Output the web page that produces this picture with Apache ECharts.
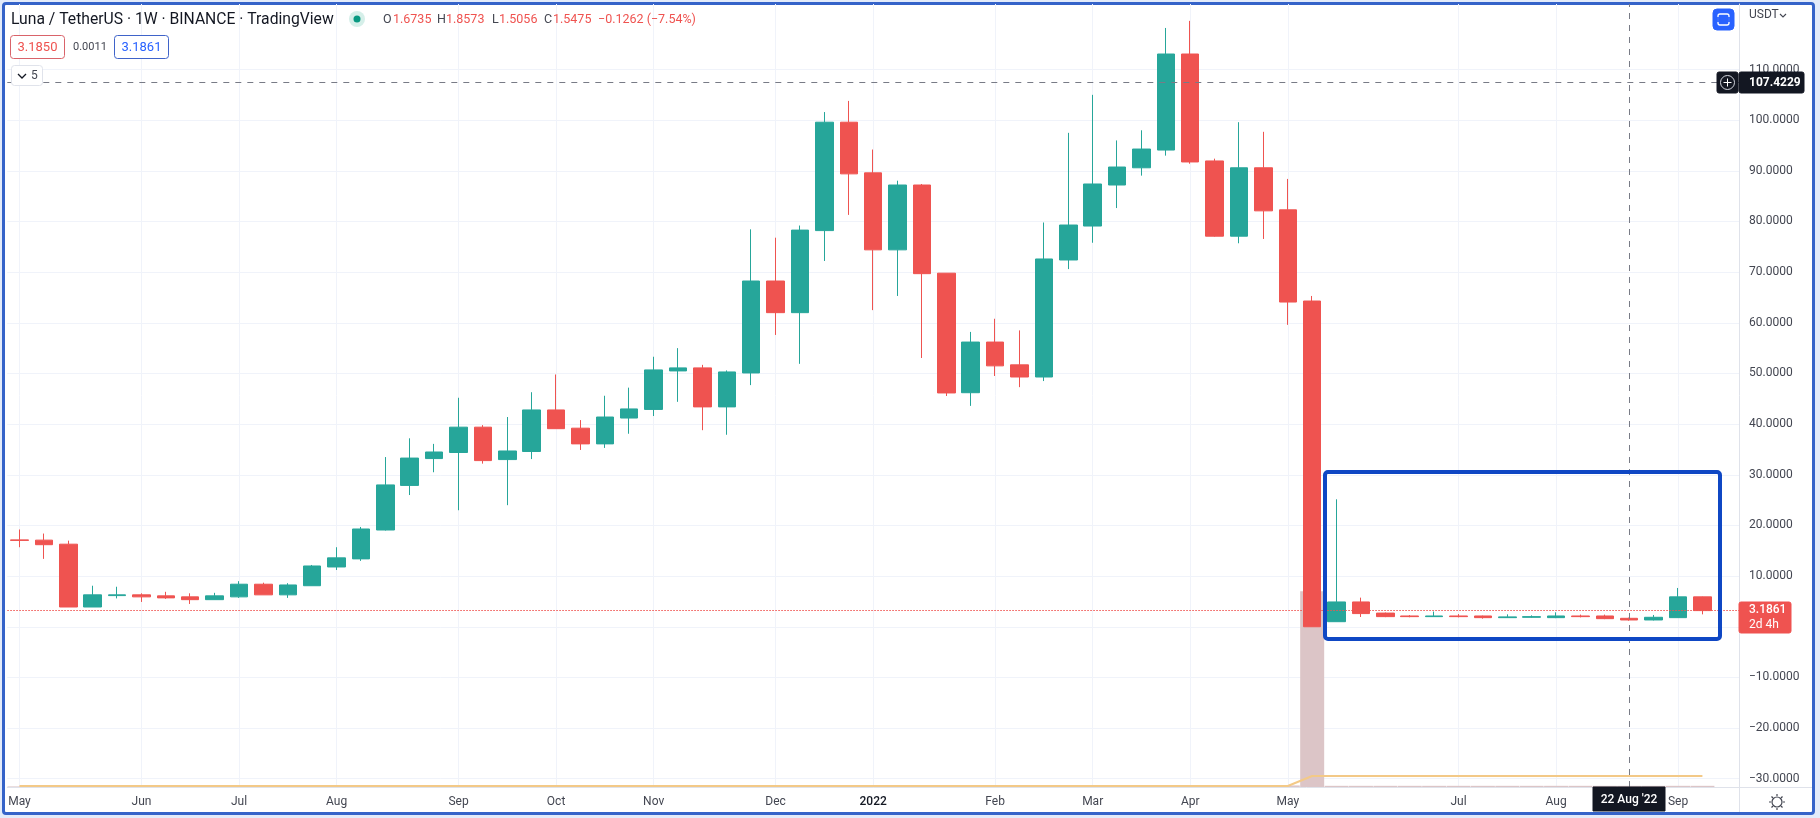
<!DOCTYPE html>
<html>
<head>
<meta charset="utf-8">
<title>Luna / TetherUS</title>
<script src="https://cdn.jsdelivr.net/npm/echarts@6/dist/echarts.min.js"></script>
<style>
    html, body { margin: 0; padding: 0; width: 1820px; height: 818px; background: #e3ebfa; overflow: hidden; }
    #frame { position: absolute; left: 2px; top: 2px; width: 1807px; height: 807px; border: 3px solid #3563c9; border-radius: 4px; background: #fff; }
    #chart { position: absolute; left: 0; top: 0; width: 1820px; height: 818px; }
</style>
</head>
<body>
<div id="frame"></div>
<div id="chart"></div>
<script>
// weekly candles, week start dates (the exchange had no trading for two weeks in May 2022)
const weeks = [
    '2021-05-03','2021-05-10','2021-05-17','2021-05-24','2021-05-31','2021-06-07','2021-06-14','2021-06-21','2021-06-28','2021-07-05',
    '2021-07-12','2021-07-19','2021-07-26','2021-08-02','2021-08-09','2021-08-16','2021-08-23','2021-08-30','2021-09-06','2021-09-13',
    '2021-09-20','2021-09-27','2021-10-04','2021-10-11','2021-10-18','2021-10-25','2021-11-01','2021-11-08','2021-11-15','2021-11-22',
    '2021-11-29','2021-12-06','2021-12-13','2021-12-20','2021-12-27','2022-01-03','2022-01-10','2022-01-17','2022-01-24','2022-01-31',
    '2022-02-07','2022-02-14','2022-02-21','2022-02-28','2022-03-07','2022-03-14','2022-03-21','2022-03-28','2022-04-04','2022-04-11',
    '2022-04-18','2022-04-25','2022-05-02','2022-05-09','2022-05-30','2022-06-06','2022-06-13','2022-06-20','2022-06-27','2022-07-04',
    '2022-07-11','2022-07-18','2022-07-25','2022-08-01','2022-08-08','2022-08-15','2022-08-22','2022-08-29','2022-09-05','2022-09-12',
    ''
];
const opens = [
    17.15,17.1,16.3,3.9,6.15,6.3,6.1,5.9,5.35,5.9,
    8.4,6.3,8.1,11.8,13.4,19.1,27.9,33.2,34.4,39.4,
    33.0,34.6,42.8,39.2,36.1,41.2,42.9,50.5,51.1,43.4,
    50.1,68.25,62.0,78.2,99.6,89.6,74.4,87.2,69.8,46.2,
    56.2,51.7,49.3,72.4,79.1,87.2,90.6,94.1,113.06,91.95,
    77.1,90.6,82.3,64.3,1.0,4.9,2.7,2.13,2.0,2.13,
    2.13,1.8,1.87,1.8,2.13,2.13,1.67,1.34,1.8,5.9
];
const closes = [
    17.05,16.2,3.9,6.3,6.3,5.9,5.7,5.35,6.1,8.4,
    6.3,8.25,12.0,13.6,19.3,28.0,33.3,34.5,39.4,32.8,
    34.7,42.8,39.1,36.1,41.4,43.0,50.7,51.1,43.4,50.3,
    68.25,62.0,78.3,99.6,89.4,74.4,87.2,69.7,46.15,56.2,
    51.5,49.3,72.6,79.3,87.4,90.75,94.3,113.06,91.75,77.1,
    90.6,82.1,64.1,0.0,4.9,2.6,2.0,2.0,2.13,2.0,
    1.8,1.95,2.0,2.13,2.0,1.6,1.34,1.87,5.9,3.19
];
const lows = [
    15.7,13.4,3.9,3.9,5.6,4.9,5.5,4.5,5.35,5.7,
    6.3,5.7,8.1,11.2,13.0,19.0,26.0,30.5,23.0,32.2,
    24.0,33.1,39.1,34.9,35.3,38.1,41.6,44.4,38.8,37.9,
    47.7,57.6,51.9,72.2,81.3,62.5,65.3,53.05,45.55,43.6,
    49.5,47.3,48.5,70.6,75.8,82.65,89.05,93.0,91.4,77.0,
    75.7,76.55,59.6,0.0,1.0,1.93,1.9,1.87,1.95,1.85,
    1.6,1.75,1.8,1.7,1.85,1.5,1.2,1.25,1.75,2.45
];
const highs = [
    19.2,18.4,17.0,8.1,7.9,6.6,6.9,6.6,6.7,9.0,
    8.7,8.6,12.2,15.7,19.7,33.5,37.2,36.1,45.2,39.8,
    41.4,46.3,49.8,40.8,45.6,47.2,53.3,55.0,51.7,50.6,
    78.45,76.8,79.2,101.6,103.8,94.2,88.05,87.4,69.8,58.2,
    60.8,58.5,79.8,97.5,105.0,96.0,98.0,118.2,119.6,92.4,
    99.6,97.7,88.4,65.3,25.16,5.75,2.8,2.3,3.0,2.5,
    2.2,2.45,2.25,2.85,2.4,2.4,1.8,2.33,7.66,5.95
];
// volume, only its size relative to the big May 2022 week is readable
const volumes = [
    0.3,0.3,0.3,0.3,0.3,0.3,0.3,0.3,0.3,0.3,
    0.3,0.3,0.3,0.3,0.3,0.3,0.3,0.3,0.3,0.3,
    0.3,0.3,0.3,0.3,0.3,0.3,0.3,0.3,0.3,0.3,
    0.3,0.3,0.3,0.3,0.3,0.3,0.3,0.3,0.3,0.3,
    0.3,0.3,0.3,0.3,0.3,0.3,0.3,0.3,0.3,0.3,
    0.3,0.4,0.8,100,0.6,0.6,0.6,0.6,0.6,0.6,
    0.6,0.6,0.6,0.6,0.6,0.6,0.6,0.6,0.6,0.6
];
const volumeMa = [
    0.5,0.5,0.5,0.5,0.5,0.5,0.5,0.5,0.5,0.5,
    0.5,0.5,0.5,0.5,0.5,0.5,0.5,0.5,0.5,0.5,
    0.5,0.5,0.5,0.5,0.5,0.5,0.5,0.5,0.5,0.5,
    0.5,0.5,0.5,0.5,0.5,0.5,0.5,0.5,0.5,0.5,
    0.5,0.5,0.5,0.5,0.5,0.5,0.5,0.5,0.5,0.5,
    0.5,0.5,0.5,5.6,5.6,5.6,5.6,5.6,5.6,5.6,
    5.6,5.6,5.6,5.6,5.6,5.6,5.6,5.6,5.6,5.6
];
const priceTicks = [-30,-20,-10,0,10,20,30,40,50,60,70,80,90,100,110];
// which week carries which label on the time axis
const monthLabels = {
    0:'May', 5:'Jun', 9:'Jul', 13:'Aug', 18:'Sep', 22:'Oct', 26:'Nov', 31:'Dec', 35:'2022',
    40:'Feb', 44:'Mar', 48:'Apr', 52:'May', 59:'Jul', 63:'Aug', 68:'Sep'
};
const crossPrice = 107.4229;
const crossWeek = 66;
const lastPrice = 3.1861;

const UP = '#26a69a';
const DOWN = '#ef5350';
const TEXT = '#434651';
const FONT = 'Roboto';

const candles = weeks.slice(0, opens.length).map((w, i) => [opens[i], closes[i], lows[i], highs[i]]);

const chart = echarts.init(document.getElementById('chart'), null, {renderer: 'canvas'});

function txt(x, y, text, fill, size, extra) {
    return {
        type: 'text', x: x, y: y, z: 100,
        style: Object.assign({text: text, fill: fill, fontSize: size, fontFamily: FONT, textVerticalAlign: 'middle'}, extra || {})
    };
}
function box(x, y, w, h, fill, stroke, r) {
    return {
        type: 'rect', z: 99,
        shape: {x: x, y: y, width: w, height: h, r: r === undefined ? 3 : r},
        style: {fill: fill, stroke: stroke, lineWidth: 1}
    };
}
function seg(x1, y1, x2, y2, stroke, lw, z) {
    return {
        type: 'line', z: z || 99,
        shape: {x1: x1, y1: y1, x2: x2, y2: y2},
        style: {stroke: stroke, lineWidth: lw}
    };
}

const option = {
    backgroundColor: 'transparent',
    animation: false,
    grid: {left: 7.3, right: 81, top: 4, bottom: 31},
    xAxis: {
        type: 'category',
        data: weeks,
        axisLine: {show: true, onZero: false, lineStyle: {color: '#dfe2ea'}},
        axisTick: {show: false},
        axisLabel: {
            interval: (i) => monthLabels[i] !== undefined,
            formatter: (v, i) => {
                if (monthLabels[i] === '2022') return '{y|2022}';
                return monthLabels[i] || '';
            },
            hideOverlap: false,
            color: TEXT,
            fontFamily: FONT,
            fontSize: 12,
            margin: 9,
            rich: {y: {color: '#131722', fontFamily: FONT, fontSize: 12, fontWeight: 500}}
        },
        splitLine: {
            show: true,
            alignWithLabel: true,
            interval: (i) => monthLabels[i] !== undefined,
            lineStyle: {color: '#f0f3fa'}
        }
    },
    yAxis: [{
        type: 'value',
        position: 'right',
        min: -31.63,
        max: 122.93,
        scale: true,
        axisLine: {show: true, lineStyle: {color: '#dfe2ea'}},
        axisTick: {show: false, customValues: priceTicks},
        axisLabel: {
            customValues: priceTicks,
            formatter: (v) => v.toFixed(4).replace('-', '\u2212'),
            color: TEXT,
            fontFamily: FONT,
            fontSize: 12,
            margin: 10,
            showMinLabel: true,
            showMaxLabel: true
        },
        splitLine: {show: true, lineStyle: {color: '#f0f3fa'}}
    }, {
        // hidden volume scale, sits at the bottom of the same pane
        type: 'value',
        position: 'right',
        min: 0,
        max: 400,
        show: false,
        splitLine: {show: false}
    }],
    series: [{
        name: 'Volume',
        type: 'bar',
        yAxisIndex: 1,
        data: volumes,
        barWidth: 24,
        z: 1,
        itemStyle: {color: '#dcc5c7'},
        silent: true
    }, {
        name: 'Volume MA',
        type: 'line',
        yAxisIndex: 1,
        data: volumeMa,
        showSymbol: false,
        z: 2,
        lineStyle: {color: '#f3c987', width: 2},
        silent: true
    }, {
        name: 'Luna / TetherUS',
        type: 'candlestick',
        data: candles,
        barWidth: 18,
        z: 3,
        itemStyle: {color: UP, color0: DOWN, borderColor: UP, borderColor0: DOWN, borderWidth: 1},
        markLine: {
            silent: true,
            symbol: 'none',
            label: {show: false},
            animation: false,
            data: [
                {yAxis: crossPrice, lineStyle: {color: '#787b86', type: [6, 6], width: 1}},
                {xAxis: crossWeek, lineStyle: {color: '#787b86', type: [6, 6], width: 1}},
                {yAxis: lastPrice, lineStyle: {color: DOWN, type: [1.5, 1.5], width: 1}}
            ]
        }
    }],
    graphic: [
        // legend block top left
        txt(11, 20, 'Luna / TetherUS \u00b7 1W \u00b7 BINANCE \u00b7 TradingView', '#131722', 15.7),
        {type: 'circle', z: 98, shape: {cx: 357, cy: 19, r: 8}, style: {fill: '#d5efe9'}},
        {type: 'circle', z: 99, shape: {cx: 357, cy: 19, r: 3.5}, style: {fill: '#089981'}},
        txt(383, 20, 'O', TEXT, 12.5),
        txt(393, 20, '1.6735', DOWN, 12.5),
        txt(437, 20, 'H', TEXT, 12.5),
        txt(446, 20, '1.8573', DOWN, 12.5),
        txt(492, 20, 'L', TEXT, 12.5),
        txt(499, 20, '1.5056', DOWN, 12.5),
        txt(544, 20, 'C', TEXT, 12.5),
        txt(553, 20, '1.5475', DOWN, 12.5),
        txt(598, 20, '\u22120.1262 (\u22127.54%)', DOWN, 12.5),
        box(10.5, 35.5, 54, 23, '#fff', '#d9636a'),
        txt(37.5, 47.5, '3.1850', DOWN, 13, {textAlign: 'center'}),
        txt(73, 47.5, '0.0011', TEXT, 11),
        box(114.5, 35.5, 54, 23, '#fff', '#3f63c9'),
        txt(141.5, 47.5, '3.1861', '#2962ff', 13, {textAlign: 'center'}),
        box(11.5, 65.5, 31, 20, '#fff', '#e0e3eb'),
        {type: 'polyline', z: 100, shape: {points: [[18, 74], [22, 78], [26, 74]]}, style: {stroke: '#131722', lineWidth: 1.3, fill: 'none'}},
        txt(31, 76, '5', TEXT, 12),

        // button and unit at top right
        box(1713, 9, 21, 21, '#2962ff', '#2962ff', 4),
        {type: 'rect', z: 100, shape: {x: 1718, y: 14, width: 11, height: 11, r: 2}, style: {fill: 'none', stroke: '#fff', lineWidth: 1.3}},
        seg(1718, 17, 1718, 22, '#2962ff', 1.8, 101),
        seg(1729, 17, 1729, 22, '#2962ff', 1.8, 101),
        txt(1749, 15, 'USDT', TEXT, 12),
        {type: 'polyline', z: 100, shape: {points: [[1780, 14], [1783, 17], [1786, 14]]}, style: {stroke: TEXT, lineWidth: 1.1, fill: 'none'}},

        // crosshair price tag
        box(1717, 72, 21, 21, '#131722', '#131722', 2),
        {type: 'circle', z: 100, shape: {cx: 1727.5, cy: 82.5, r: 7}, style: {fill: 'none', stroke: '#d1d4dc', lineWidth: 1}},
        seg(1723.5, 82.5, 1731.5, 82.5, '#fff', 1, 100),
        seg(1727.5, 78.5, 1727.5, 86.5, '#fff', 1, 100),
        box(1739, 72, 65, 21, '#131722', '#131722', 2),
        txt(1749, 82.5, '107.4229', '#fff', 12, {fontWeight: 'bold'}),

        // last price tag
        box(1739, 602, 52, 31, DOWN, DOWN, 2),
        txt(1749, 610, '3.1861', '#fff', 12, {fontWeight: 500}),
        txt(1749, 625, '2d 4h', '#fff', 12),

        // crosshair time tag
        box(1593, 787, 72, 24, '#131722', '#131722', 0),
        txt(1629, 800, "22 Aug '22", '#fff', 12, {textAlign: 'center', fontWeight: 500}),

        // axis frame below and beside the pane
        seg(1739.5, 787, 1739.5, 812, '#dfe2ea', 1, 5),
        seg(1739, 787.5, 1812, 787.5, '#dfe2ea', 1, 5),

        // settings icon
        {type: 'circle', z: 100, shape: {cx: 1777, cy: 802, r: 5}, style: {fill: 'none', stroke: TEXT, lineWidth: 1.2}},
        seg(1777, 794, 1777, 796, TEXT, 1.2, 100),
        seg(1777, 808, 1777, 810, TEXT, 1.2, 100),
        seg(1769, 802, 1771, 802, TEXT, 1.2, 100),
        seg(1783, 802, 1785, 802, TEXT, 1.2, 100),
        seg(1771.5, 796.5, 1773, 798, TEXT, 1.2, 100),
        seg(1781, 806, 1782.5, 807.5, TEXT, 1.2, 100),
        seg(1771.5, 807.5, 1773, 806, TEXT, 1.2, 100),
        seg(1781, 798, 1782.5, 796.5, TEXT, 1.2, 100),

        // hand drawn blue box around the post crash candles
        {
            type: 'rect', z: 90,
            shape: {x: 1325, y: 472, width: 395, height: 167, r: 3},
            style: {fill: 'none', stroke: '#0f47c4', lineWidth: 4}
        }
    ]
};
chart.setOption(option);
</script>
</body>
</html>
